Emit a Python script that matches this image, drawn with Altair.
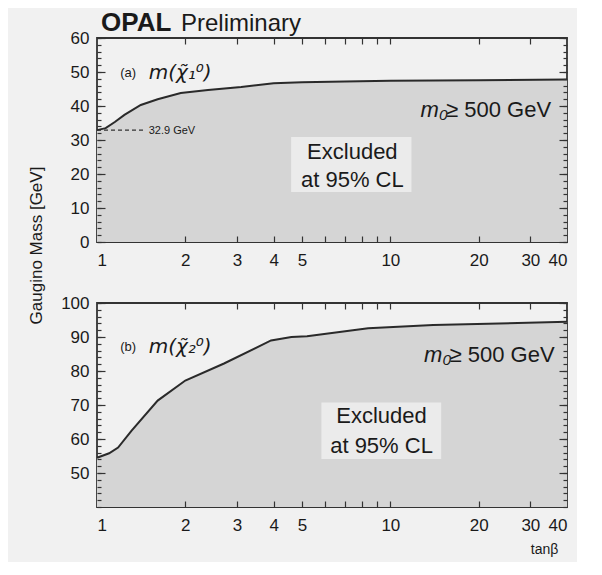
import altair as alt
import pandas as pd

# ---- data ----
tanb_a = [1.0, 1.07, 1.15, 1.24, 1.41, 1.61, 1.93, 2.39, 3.1, 4.0, 5.0, 7.0, 10.0, 20.0, 40.0]
mass_a = [32.9, 33.5, 35.3, 37.4, 40.3, 42.0, 43.8, 44.7, 45.6, 46.7, 47.0, 47.2, 47.4, 47.6, 47.8]

tanb_b = [1.0, 1.1, 1.18, 1.31, 1.61, 2.0, 2.71, 3.92, 4.6, 5.2, 8.4, 14.0, 40.0]
mass_b = [54.5, 55.8, 57.5, 62.4, 71.3, 77.2, 82.2, 89.0, 90.0, 90.2, 92.6, 93.5, 94.5]

x_labels = [1, 2, 3, 4, 5, 10, 20, 30, 40]
x_ticks = [2, 3, 4, 5, 6, 7, 8, 9, 10, 20, 30]
ya_labels = [0, 10, 20, 30, 40, 50, 60]
ya_minor = list(range(0, 61, 2))
yb_labels = [50, 60, 70, 80, 90, 100]
yb_minor = list(range(40, 101, 2))

title_words = ["OPAL", "Preliminary"]
panel_tags = ["(a)", "(b)"]
panel_names = ["m(χ̃₁⁰)", "m(χ̃₂⁰)"]
m0_text = ["m₀", "≥ 500 GeV"]
excl_lines = ["Excluded", "at 95% CL"]
lep_limit = 32.9
lep_label = "32.9 GeV"

FONT = "Liberation Sans"
INK = "#1a1a1a"
FILL = "#d5d5d5"
BOX = "#ebebeb"
BG = "#f1f1f1"

W, H = 470, 204
one = pd.DataFrame({"k": [0]})


def nox(v):
    return alt.XDatum(v, axis=None)


def noy(v):
    return alt.YDatum(v, axis=None)


def panel(tb, m, ymin, ymax, ylabels, yminor, tag, name, box, excl_pos, m0_pos,
          tag_pos, ytitle=False, xtitle=False, top=False):
    df = pd.DataFrame({"tanb": tb, "m": m})
    xs = alt.Scale(type="log", domain=[1, 40], nice=False)
    ys = alt.Scale(domain=[ymin, ymax], nice=False, zero=False)

    xlab = dict(values=x_labels, ticks=False, domain=False, grid=False, format="d",
                labelFontSize=17, labelPadding=10, labelColor=INK, labelFont=FONT)
    if xtitle:
        xlab.update(title="tanβ", titleX=447, titleY=42, titleFontSize=14,
                    titleFontWeight="normal", titleFont=FONT, titleColor=INK,
                    titleAlign="center", titleBaseline="middle")
    else:
        xlab.update(title=None)
    ylab = dict(values=ylabels, ticks=False, domain=False, grid=False,
                labelFontSize=17, labelPadding=8, labelColor=INK, labelFont=FONT)
    if ytitle:
        ylab.update(title="Gaugino Mass [GeV]", titleX=-61, titleY=207, titleFontSize=17,
                    titleFontWeight="normal", titleFont=FONT, titleColor=INK,
                    titleAlign="center", titleBaseline="middle", titleAngle=-90)
    else:
        ylab.update(title=None)

    def tick_axis(orient, values, size):
        return alt.Axis(orient=orient, values=values, tickSize=size, offset=-size,
                        labels=False, domain=False, grid=False, title=None,
                        tickColor="#333333", tickWidth=1.2, zindex=2)

    area = alt.Chart(df).mark_area(color=FILL, opacity=1).encode(
        x=alt.X("tanb:Q", scale=xs, axis=alt.Axis(**xlab)),
        y=alt.Y("m:Q", scale=ys, axis=alt.Axis(**ylab)),
        y2=alt.datum(ymin),
    )
    line = alt.Chart(df).mark_line(color="#2a2a2a", strokeWidth=2).encode(
        x=alt.X("tanb:Q", axis=tick_axis("top", x_ticks, 6)),
        y=alt.Y("m:Q", axis=tick_axis("right", ylabels, 8)),
    )
    t1 = alt.Chart(df).mark_point(opacity=0).encode(
        x=alt.X("tanb:Q", axis=tick_axis("bottom", x_ticks, 6)),
        y=alt.Y("m:Q", axis=tick_axis("left", ylabels, 8)),
    )
    t2 = alt.Chart(pd.DataFrame({"v": yminor})).mark_point(opacity=0).encode(
        y=alt.Y("v:Q", axis=tick_axis("left", yminor, 4)),
    )
    t3 = alt.Chart(pd.DataFrame({"v": yminor})).mark_point(opacity=0).encode(
        y=alt.Y("v:Q", axis=tick_axis("right", yminor, 4)),
    )

    rect = alt.Chart(one).mark_rect(color=BOX).encode(
        x=nox(box[0]), x2=alt.datum(box[1]), y=noy(box[2]), y2=alt.datum(box[3]))
    excl1 = alt.Chart(pd.DataFrame({"t": [excl_lines[0]]})).mark_text(
        font=FONT, fontSize=22, color=INK, align="center", baseline="middle").encode(
        x=nox(excl_pos[0]), y=noy(excl_pos[1]), text="t:N")
    excl2 = alt.Chart(pd.DataFrame({"t": [excl_lines[1]]})).mark_text(
        font=FONT, fontSize=22, color=INK, align="center", baseline="middle").encode(
        x=nox(excl_pos[0]), y=noy(excl_pos[2]), text="t:N")
    m0b = alt.Chart(pd.DataFrame({"t": [m0_text[1]]})).mark_text(
        font=FONT, fontSize=22, color=INK, align="right", baseline="middle").encode(
        x=nox(m0_pos[0]), y=noy(m0_pos[1]), text="t:N")
    m0a = alt.Chart(pd.DataFrame({"t": [m0_text[0]]})).mark_text(
        font=FONT, fontSize=22, fontStyle="italic", color=INK, align="right",
        baseline="middle", dx=-103).encode(
        x=nox(m0_pos[0]), y=noy(m0_pos[1]), text="t:N")
    tg = alt.Chart(pd.DataFrame({"t": [tag]})).mark_text(
        font=FONT, fontSize=13, color=INK, align="left", baseline="middle").encode(
        x=nox(tag_pos[0]), y=noy(tag_pos[2]), text="t:N")
    nm = alt.Chart(pd.DataFrame({"t": [name]})).mark_text(
        font="DejaVu Sans", fontSize=20, fontStyle="italic", color=INK, align="left",
        baseline="middle").encode(
        x=nox(tag_pos[1]), y=noy(tag_pos[2]), text="t:N")

    layers = [area, rect, excl1, excl2, m0a, m0b, tg, nm]
    if top:
        lep = pd.DataFrame({"y": [lep_limit]})
        dash = alt.Chart(lep).mark_rule(color="#333333", strokeDash=[4, 3], strokeWidth=1.2).encode(
            x=nox(1.0), x2=alt.datum(1.45), y=alt.Y("y:Q", axis=None))
        lab = alt.Chart(pd.DataFrame({"t": [lep_label]})).mark_text(
            font=FONT, fontSize=11, color=INK, align="left", baseline="middle").encode(
            x=nox(1.5), y=noy(lep_limit - 0.3), text="t:N")
        ttl1 = alt.Chart(pd.DataFrame({"t": [title_words[0]]})).mark_text(
            font=FONT, fontSize=26, fontWeight="bold", color=INK, align="left",
            baseline="alphabetic").encode(x=alt.value(4), y=alt.value(-7), text="t:N")
        ttl2 = alt.Chart(pd.DataFrame({"t": [title_words[1]]})).mark_text(
            font=FONT, fontSize=24, color=INK, align="left",
            baseline="alphabetic").encode(x=alt.value(84), y=alt.value(-7), text="t:N")
        layers += [dash, lab, ttl1, ttl2]
    layers += [line, t1, t2, t3]
    return alt.layer(*layers).resolve_axis(x="independent", y="independent").properties(
        width=W, height=H)


top = panel(tanb_a, mass_a, 0, 60, ya_labels, ya_minor, panel_tags[0], panel_names[0],
            box=(4.59, 11.8, 30.9, 14.7), excl_pos=(7.42, 26.5, 18.2),
            m0_pos=(35.3, 38.8), tag_pos=(1.2, 1.5, 49.7), ytitle=True, top=True)
bot = panel(tanb_b, mass_b, 40, 100, yb_labels, yb_minor, panel_tags[1], panel_names[1],
            box=(5.82, 14.9, 70.7, 54.1), excl_pos=(9.33, 66.9, 58.0),
            m0_pos=(36.3, 84.6), tag_pos=(1.2, 1.5, 87.0), xtitle=True)

chart = alt.vconcat(top, bot, spacing=61, bounds="flush").properties(
    padding={"left": 18, "top": 1, "right": 5, "bottom": 5},
    background=BG,
).configure_view(stroke="#333333", strokeWidth=1.8)

chart.save("out.html", embed_options={"renderer": "svg", "actions": False})
